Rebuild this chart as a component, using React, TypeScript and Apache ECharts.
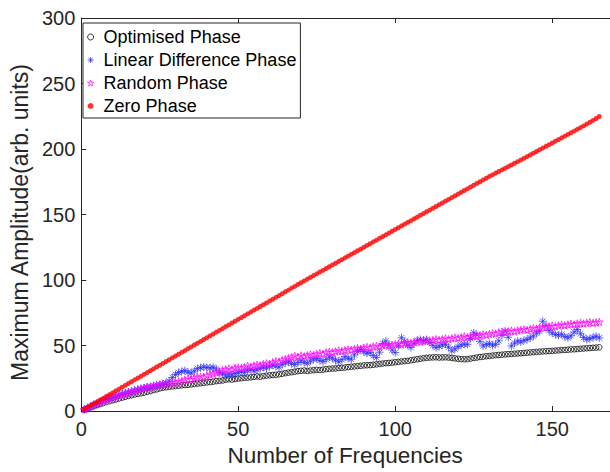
import React, { useEffect, useRef } from "react";
import * as echarts from "echarts";

// Number of frequencies (x values)
const frequencyCounts: number[] = Array.from({ length: 165 }, (_, i) => i + 1);

const optimisedPhase: number[] = [
  1.0, 1.9, 2.8, 3.6, 4.5, 5.3, 6.0, 6.8, 7.5, 8.2,
  8.8, 9.5, 10.2, 10.8, 11.5, 12.0, 12.6, 13.1, 13.5, 14.0,
  14.6, 15.2, 15.9, 16.5, 17.2, 17.8, 18.1, 18.5, 18.8, 19.1,
  19.3, 19.6, 19.8, 20.0, 20.3, 20.6, 20.9, 21.2, 21.5, 21.8,
  22.0, 22.4, 22.8, 23.0, 23.3, 23.9, 24.2, 24.0, 24.4, 24.8,
  25.0, 25.3, 25.5, 25.7, 26.0, 26.4, 26.2, 26.6, 27.0, 27.3,
  27.5, 27.7, 28.0, 28.4, 28.9, 29.3, 29.6, 30.0, 30.4, 30.7,
  30.9, 30.6, 30.9, 31.2, 31.4, 31.3, 31.6, 31.9, 32.2, 32.4,
  32.5, 32.8, 33.0, 33.2, 33.5, 33.8, 34.0, 34.3, 34.5, 34.8,
  34.9, 35.0, 35.3, 35.6, 35.9, 36.2, 36.5, 36.7, 36.9, 37.2,
  37.5, 37.8, 38.1, 38.3, 38.7, 39.1, 39.5, 39.9, 40.3, 40.6,
  40.8, 40.9, 41.0, 40.8, 40.9, 41.0, 40.8, 40.5, 40.2, 39.9,
  39.6, 39.5, 39.6, 40.0, 40.4, 40.8, 41.2, 41.5, 41.8, 42.0,
  42.3, 42.6, 42.8, 43.0, 43.2, 43.4, 43.5, 43.7, 43.9, 44.1,
  44.3, 44.5, 44.7, 44.9, 45.1, 45.3, 45.5, 45.6, 45.8, 45.9,
  46.1, 46.3, 46.5, 46.6, 46.8, 47.0, 47.1, 47.3, 47.5, 47.7,
  47.9, 48.1, 48.3, 48.4, 48.6,
];

const linearDifferencePhase: number[] = [
  1.1, 2.3, 3.6, 4.8, 5.9, 7.0, 8.1, 8.9, 9.8, 10.6,
  11.5, 12.3, 13.0, 13.8, 14.5, 15.1, 15.8, 16.4, 17.1, 17.6,
  18.2, 18.9, 19.3, 19.9, 20.4, 20.8, 21.5, 22.9, 25.6, 27.8,
  29.4, 30.2, 30.8, 29.6, 28.9, 30.5, 32.4, 33.1, 33.6, 33.2,
  32.8, 33.4, 32.1, 29.5, 28.3, 27.6, 28.1, 27.4, 28.6, 29.3,
  30.1, 29.6, 31.0, 31.8, 30.7, 31.5, 32.6, 33.4, 32.8, 34.1,
  35.0, 34.2, 33.5, 35.6, 36.8, 37.5, 36.2, 35.4, 37.0, 38.3,
  37.1, 36.4, 38.2, 39.5, 40.1, 38.6, 37.8, 39.4, 41.2, 40.3,
  38.9, 37.6, 39.2, 41.5, 40.2, 39.5, 42.8, 45.6, 47.0, 45.3,
  44.1, 44.6, 42.3, 40.8, 44.9, 51.6, 53.4, 50.2, 46.5, 44.6,
  49.8, 55.9, 53.1, 50.2, 48.4, 51.7, 53.9, 54.6, 53.8, 54.6,
  52.4, 50.1, 48.4, 49.5, 50.3, 50.9, 48.7, 45.9, 47.4, 49.2,
  50.3, 51.0, 50.9, 55.3, 59.7, 58.1, 53.2, 49.6, 50.8, 51.4,
  50.2, 50.9, 53.5, 57.8, 61.0, 56.3, 49.6, 51.8, 53.4, 52.7,
  53.9, 54.6, 55.8, 57.2, 59.4, 61.0, 68.5, 65.2, 61.4, 59.6,
  58.4, 57.9, 58.6, 56.8, 55.9, 57.4, 60.3, 62.2, 59.0, 56.1,
  54.6, 55.3, 56.2, 57.0, 55.8,
];

const randomPhase: number[] = [
  1.2, 2.4, 3.5, 4.6, 5.6, 6.7, 7.6, 8.5, 9.3, 10.2,
  11.0, 11.8, 12.5, 13.4, 14.1, 14.9, 15.5, 16.4, 17.0, 17.6,
  18.3, 18.1, 19.0, 19.6, 20.0, 20.7, 20.4, 21.3, 21.8, 22.0,
  22.6, 23.0, 23.9, 24.4, 24.1, 25.3, 25.8, 26.2, 26.0, 27.1,
  27.8, 28.5, 29.4, 30.1, 31.2, 31.8, 32.4, 31.6, 32.8, 33.2,
  32.9, 33.5, 34.4, 33.8, 34.6, 35.3, 34.9, 35.8, 36.4, 36.0,
  37.2, 38.0, 37.6, 38.9, 39.5, 40.3, 41.1, 42.0, 41.4, 42.3,
  41.8, 42.6, 43.2, 42.7, 43.5, 44.1, 43.6, 44.8, 45.2, 44.7,
  45.5, 46.1, 45.8, 46.4, 47.0, 46.6, 47.5, 48.0, 47.4, 48.3,
  48.8, 48.2, 49.1, 49.6, 49.0, 50.2, 50.6, 49.9, 50.5, 51.0,
  51.4, 50.8, 51.7, 52.3, 51.9, 52.6, 53.2, 52.7, 53.4, 53.9,
  53.4, 54.2, 54.7, 54.1, 54.9, 55.4, 54.8, 55.5, 56.0, 55.6,
  56.3, 56.9, 56.4, 57.1, 57.6, 57.0, 57.8, 58.4, 58.0, 58.8,
  59.4, 59.0, 60.1, 60.6, 60.0, 60.8, 61.3, 60.7, 61.4, 61.9,
  62.3, 61.8, 62.6, 63.2, 62.9, 63.7, 64.3, 63.8, 64.5, 65.1,
  64.6, 65.3, 65.9, 65.4, 66.0, 66.5, 66.1, 66.8, 67.2, 66.7,
  67.3, 67.8, 67.2, 67.6, 68.0,
];

const zeroPhase: number[] = [
  1.4, 2.7, 4.2, 5.6, 6.9, 8.4, 9.7, 11.2, 12.5, 13.9,
  15.4, 16.7, 18.2, 19.5, 21.0, 22.3, 23.8, 25.1, 26.5, 28.0,
  29.3, 30.8, 32.1, 33.6, 34.9, 36.3, 37.8, 39.1, 40.6, 41.9,
  43.3, 44.8, 46.1, 47.6, 48.9, 50.4, 51.7, 53.1, 54.6, 55.9,
  57.4, 58.7, 60.2, 61.5, 62.9, 64.4, 65.7, 67.2, 68.5, 70.0,
  71.3, 72.7, 74.2, 75.5, 77.0, 78.3, 79.8, 81.1, 82.5, 84.0,
  85.3, 86.8, 88.1, 89.5, 91.0, 92.3, 93.8, 95.1, 96.6, 97.9,
  99.3, 100.7, 102.0, 103.4, 104.7, 106.1, 107.4, 108.8, 110.1, 111.5,
  112.8, 114.2, 115.5, 116.9, 118.2, 119.6, 120.9, 122.3, 123.6, 125.0,
  126.4, 127.7, 129.1, 130.4, 131.8, 133.1, 134.5, 135.8, 137.2, 138.6,
  139.9, 141.3, 142.6, 144.0, 145.3, 146.7, 148.0, 149.4, 150.7, 152.1,
  153.4, 154.8, 156.1, 157.5, 158.8, 160.2, 161.5, 162.9, 164.2, 165.6,
  166.9, 168.3, 169.6, 171.0, 172.3, 173.7, 175.0, 176.4, 177.7, 179.1,
  180.3, 181.6, 182.8, 184.1, 185.3, 186.6, 187.8, 189.1, 190.3, 191.6,
  192.9, 194.2, 195.5, 196.8, 198.1, 199.4, 200.7, 202.0, 203.3, 204.6,
  205.9, 207.2, 208.5, 209.8, 211.1, 212.4, 213.7, 215.0, 216.3, 217.6,
  219.0, 220.4, 221.8, 223.3, 224.8,
];

const seriesNames = ["Optimised Phase", "Linear Difference Phase", "Random Phase", "Zero Phase"];

const ASTERISK = "path://M0,-10L0,10M-10,0L10,0M-7.07,-7.07L7.07,7.07M-7.07,7.07L7.07,-7.07";
const STAR =
  "path://M0,-10L2.245,-3.09L9.51,-3.09L3.63,1.18L5.88,8.09L0,3.82L-5.88,8.09L-3.63,1.18L-9.51,-3.09L-2.245,-3.09Z";

export default function App() {
  const ref = useRef<HTMLDivElement>(null);

  useEffect(() => {
    if (!ref.current) return;
    const chart = echarts.init(ref.current, null, { renderer: "svg" });
    const font = "'Liberation Sans', Arial, Helvetica, sans-serif";
    const axisColor = "#262626";
    const pair = (arr: number[]) => arr.map((v, i) => [frequencyCounts[i], v]);

    const styles = [
      { symbol: "circle", size: 5.5, itemStyle: { color: "rgba(0,0,0,0)", borderColor: "#000000", borderWidth: 1 } },
      { symbol: ASTERISK, size: 8, itemStyle: { color: "#2a2aff", borderColor: "#2a2aff", borderWidth: 0.9 } },
      { symbol: STAR, size: 8, itemStyle: { color: "rgba(0,0,0,0)", borderColor: "#ff00ff", borderWidth: 0.9 } },
      { symbol: "circle", size: 5, itemStyle: { color: "#ff0000", borderWidth: 0 } },
    ];
    const datasets = [optimisedPhase, linearDifferencePhase, randomPhase, zeroPhase];

    const baseX = {
      type: "value",
      min: 0,
      max: 170,
      interval: 50,
      splitLine: { show: false },
      axisLine: { show: true, onZero: false, lineStyle: { color: axisColor, width: 1 } },
      axisTick: { show: true, inside: true, length: 5, lineStyle: { color: axisColor } },
    };
    const baseY = {
      type: "value",
      min: 0,
      max: 300,
      interval: 50,
      splitLine: { show: false },
      axisLine: { show: true, onZero: false, lineStyle: { color: axisColor, width: 1 } },
      axisTick: { show: true, inside: true, length: 5, lineStyle: { color: axisColor } },
    };

    chart.setOption({
      animation: false,
      backgroundColor: "#ffffff",
      grid: { left: 77, right: 5, top: 18, bottom: 58, containLabel: false },
      xAxis: [
        {
          ...baseX,
          position: "bottom",
          name: "Number of Frequencies",
          nameLocation: "middle",
          nameGap: 33,
          nameTextStyle: { fontSize: 22.5, color: axisColor, fontFamily: font, padding: [0, 6, 0, 0] },
          axisLabel: { show: true, fontSize: 20, color: axisColor, fontFamily: font, margin: 8, showMaxLabel: false },
        },
        { ...baseX, position: "top", axisLabel: { show: false } },
      ],
      yAxis: [
        {
          ...baseY,
          position: "left",
          name: "Maximum Amplitude(arb. units)",
          nameLocation: "middle",
          nameGap: 42,
          nameRotate: 90,
          nameTextStyle: { fontSize: 23, color: axisColor, fontFamily: font, padding: [0, 16, 0, 0] },
          axisLabel: { show: true, fontSize: 20, color: axisColor, fontFamily: font, margin: 6 },
        },
        { ...baseY, position: "right", axisLabel: { show: false } },
      ],
      legend: {
        left: 83,
        top: 23,
        orient: "vertical",
        backgroundColor: "#ffffff",
        borderColor: axisColor,
        borderWidth: 1,
        borderRadius: 0,
        padding: [5, 4, 3, 4],
        itemGap: 5,
        itemWidth: 16,
        itemHeight: 6,
        selectedMode: false,
        textStyle: { fontSize: 18, color: "#000000", fontFamily: font },
        data: seriesNames.map((name, i) => ({
          name,
          icon: styles[i].symbol,
          itemStyle: styles[i].itemStyle,
        })),
      },
      series: datasets.map((arr, i) => ({
        name: seriesNames[i],
        type: "scatter",
        xAxisIndex: 0,
        yAxisIndex: 0,
        symbol: styles[i].symbol,
        symbolSize: styles[i].size,
        symbolKeepAspect: true,
        itemStyle: styles[i].itemStyle,
        emphasis: { disabled: true },
        data: pair(arr),
        z: 2 + i,
      })),
    });

    return () => chart.dispose();
  }, []);

  return (
    <div
      style={{
        position: "absolute",
        left: 0,
        top: 0,
        width: 610,
        height: 472,
        overflow: "hidden",
        background: "#ffffff",
      }}
    >
      <div ref={ref} style={{ width: 620, height: 472 }} />
    </div>
  );
}
